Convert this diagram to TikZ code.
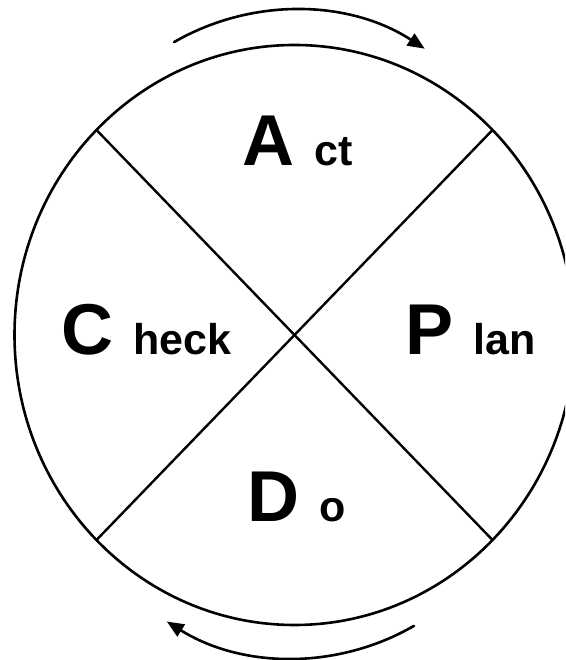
\documentclass[tikz,border=0pt]{standalone}
\usepackage{fontspec}
\setmainfont{Liberation Sans}
\usepackage{tikz}
\usetikzlibrary{arrows.meta,calc}

\newcommand{\capL}{\fontsize{72}{72}\selectfont\bfseries}
\newcommand{\restL}{\fontsize{43}{43}\selectfont\bfseries}

\begin{document}
\begin{tikzpicture}[
    x=1pt, y=1pt,
    ring/.style={line width=2.6pt},
    cut/.style={line width=2.4pt},
    turn/.style={line width=2.6pt, line cap=round, -{Triangle[length=17pt, width=14pt]}},
    word/.style={anchor=base west, inner sep=0pt}
  ]
    \clip (0,0) rectangle (565,660);

    % Outer ring
    \coordinate (mid) at (294.5,325);
    \draw[ring] (mid) ellipse [x radius=280, y radius=290];

    % Cross
    \coordinate (ul) at ($(mid)+(-198,205)$);
    \coordinate (ur) at ($(mid)+(198,205)$);
    \coordinate (ll) at ($(mid)+(-198,-205)$);
    \coordinate (lr) at ($(mid)+(198,-205)$);
    \draw[cut] (ul) -- (lr);
    \draw[cut] (ur) -- (ll);

    % Quarters
    \node[word] (act)   at (242,494) {\capL A \restL ct};
    \node[word] (check) at (61,305)  {\capL C \restL heck};
    \node[word] (plan)  at (405,305) {\capL P \restL lan};
    \node[word] (do)    at (247,138) {\capL D \restL o};

    % Turning arrows
    \draw[turn] (294,410) ++(120:240) arc[start angle=120, end angle=57, radius=240];
    \draw[turn] (294,242) ++(-60:240) arc[start angle=-60, end angle=-122, radius=240];
\end{tikzpicture}
\end{document}
